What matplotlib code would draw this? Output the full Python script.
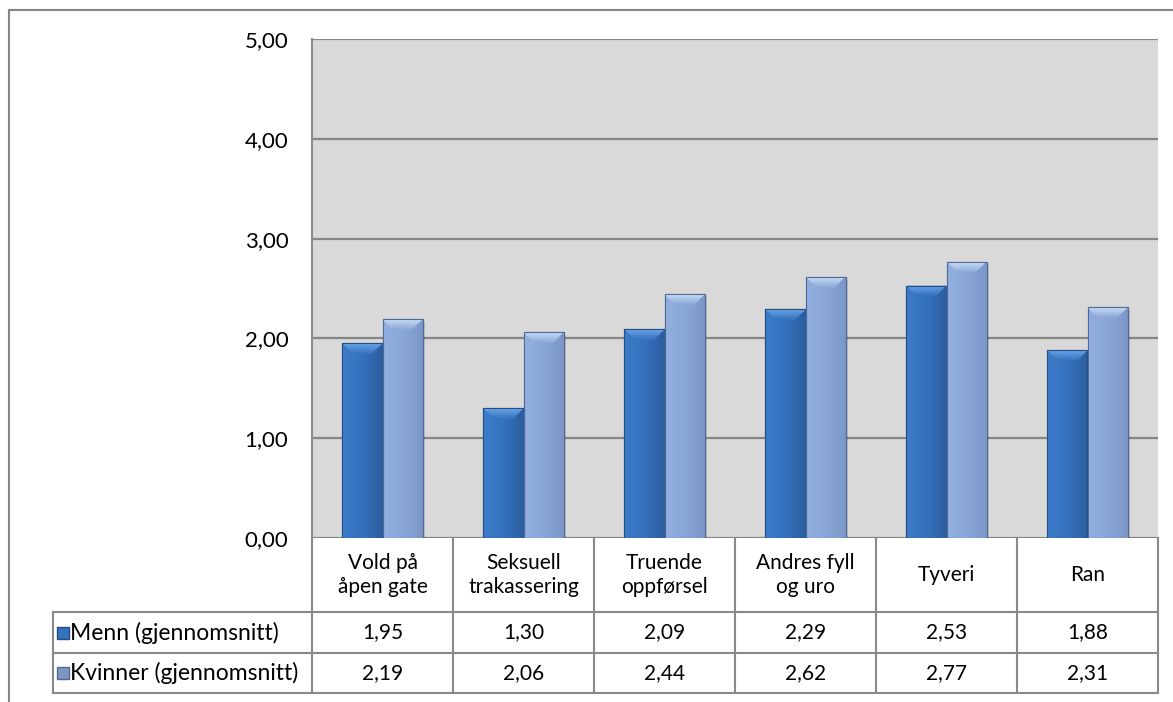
import numpy as np
import matplotlib
matplotlib.use("Agg")
import matplotlib.pyplot as plt
from matplotlib.patches import Polygon, Rectangle
from matplotlib.colors import LinearSegmentedColormap

plt.rcParams["font.family"] = ["Lato", "DejaVu Sans"]

categories = ["Vold på\nåpen gate", "Seksuell\ntrakassering", "Truende\noppførsel",
              "Andres fyll\nog uro", "Tyveri", "Ran"]
series_names = ["Menn (gjennomsnitt)", "Kvinner (gjennomsnitt)"]
menn = [1.95, 1.30, 2.09, 2.29, 2.53, 1.88]
kvinner = [2.19, 2.06, 2.44, 2.62, 2.77, 2.31]
y_ticks = [0, 1, 2, 3, 4, 5]

W, H = 1173, 702
fig = plt.figure(figsize=(W / 100, H / 100), dpi=100)

# plot area in pixels (left, top, right, bottom)
pl, pt, pr, pb = 312, 39, 1158, 538
ax = fig.add_axes([pl / W, (H - pb) / H, (pr - pl) / W, (pb - pt) / H])
ax.set_facecolor("#d9d9d9")
ax.set_xlim(-0.5, len(categories) - 0.5)
ax.set_ylim(0, 5)
ax.set_yticks(y_ticks)
ax.set_yticklabels([f"{v:.2f}".replace(".", ",") for v in y_ticks], fontsize=16)
ax.tick_params(axis="y", length=0, pad=17)
ax.set_xticks([])
ax.grid(axis="y", color="#868686", lw=1.6)
ax.set_axisbelow(True)
for s in ["top", "right", "bottom"]:
    ax.spines[s].set_visible(False)
ax.spines["left"].set_color("#8c8c8c")
ax.spines["left"].set_linewidth(1.5)

gray = "#898989"
bw = 0.284
x = np.arange(len(categories))
styles = [
    dict(cmap=["#3c7cc9", "#3571bd", "#2c5e9f"], edge="#254e85", top="#6aa5e8"),
    dict(cmap=["#93afdf", "#8aa6d7", "#7b96c6"], edge="#4f6a94", top="#c8dcf6"),
]

bevel_h = 0.11
bevel_w = 11 / 141
for i, (vals, st) in enumerate(zip([menn, kvinner], styles)):
    xs = x + (i - 0.5) * bw
    bars = ax.bar(xs, vals, width=bw, color=st["cmap"][1], edgecolor=st["edge"],
                  lw=0.8, zorder=3)
    cm = LinearSegmentedColormap.from_list(f"g{i}", st["cmap"])
    tcm = LinearSegmentedColormap.from_list(f"t{i}", [st["top"], st["cmap"][1]])
    for b in bars:
        x0, w, h = b.get_x(), b.get_width(), b.get_height()
        # soft shadow
        ax.add_patch(Rectangle((x0 + 0.02, 0), w, h - 0.03, color="black",
                               alpha=0.12, lw=0, zorder=2))
        im = ax.imshow(np.linspace(0, 1, 64).reshape(1, -1), cmap=cm, aspect="auto",
                       extent=(x0, x0 + w, 0, h), zorder=3.5)
        im.set_clip_path(b)
        bev = Polygon([(x0, h), (x0 + w, h), (x0 + w - bevel_w, h - bevel_h),
                       (x0 + bevel_w, h - bevel_h)], closed=True, facecolor="none",
                      lw=0, zorder=3.6)
        ax.add_patch(bev)
        im2 = ax.imshow(np.linspace(0, 1, 32).reshape(-1, 1), cmap=tcm, aspect="auto",
                        extent=(x0, x0 + w, h - bevel_h, h), zorder=3.6)
        im2.set_clip_path(bev)
        ax.add_patch(Rectangle((x0, 0), w, h, facecolor="none", edgecolor=st["edge"],
                               lw=0.8, zorder=3.8))
ax.set_xlim(-0.5, len(categories) - 0.5)
ax.set_ylim(0, 5)

# data table below the plot
tb = 693
tax = fig.add_axes([pl / W, (H - tb) / H, (pr - pl) / W, (tb - pb) / H])
tax.set_xlim(-0.5, len(categories) - 0.5)
tax.set_ylim(tb - pb, 0)
tax.axis("off")
col_px = (pr - pl) / len(categories)
leg_left = -0.5 - (pl - 53) / col_px
rows = [0, 74, 115, 155]
lk = dict(color=gray, lw=1.5, clip_on=False, solid_capstyle="projecting")
for k in range(len(categories) + 1):
    tax.plot([k - 0.5, k - 0.5], [rows[0], rows[-1]], **lk)
for r in rows[1:]:
    tax.plot([leg_left, len(categories) - 0.5], [r, r], **lk)
tax.plot([leg_left, leg_left], [rows[1], rows[-1]], **lk)

fs = 15
for k, c in enumerate(categories):
    tax.text(k, (rows[0] + rows[1]) / 2, c, ha="center", va="center", fontsize=fs,
             linespacing=1.2)
for j, (vals, name, st) in enumerate(zip([menn, kvinner], series_names, styles)):
    yc = (rows[j + 1] + rows[j + 2]) / 2
    for k, v in enumerate(vals):
        tax.text(k, yc, f"{v:.2f}".replace(".", ","), ha="center", va="center",
                 fontsize=fs)
    tax.plot([leg_left + 10 / col_px], [yc], marker="s", markersize=9,
             color=st["cmap"][1] if j == 0 else "#7f96c0", markeredgecolor=st["edge"],
             clip_on=False)
    tax.text(leg_left + 17 / col_px, yc, name, ha="left", va="center", fontsize=16.5)

# outer chart frame
fig.add_artist(Rectangle((8.5 / W, -0.2), 1.2, (H - 9.5) / H + 0.2,
                         transform=fig.transFigure, fill=False,
                         edgecolor="#868686", lw=1.5))

fig.savefig("out.png", dpi=100, facecolor="white")
